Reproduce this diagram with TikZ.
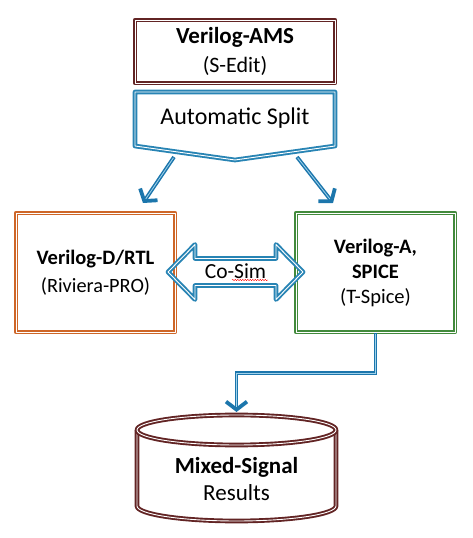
\documentclass[tikz,border=0pt]{standalone}
\usepackage{fontspec}
\setmainfont{Carlito}
\usetikzlibrary{calc,arrows.meta,decorations.pathmorphing}
\definecolor{bordeaux}{RGB}{98,36,36}
\definecolor{bleusplit}{RGB}{40,132,180}
\definecolor{orangeD}{RGB}{206,102,40}
\definecolor{vertA}{RGB}{66,138,60}
\definecolor{bleufl}{RGB}{28,118,172}
\definecolor{bleuclair}{RGB}{160,210,235}
\newcommand{\taille}[2]{\fontsize{#1}{#2}\selectfont}

\begin{document}
\begin{tikzpicture}[x=1pt,y=1pt,
  contour/.style={draw=#1, double=white, double distance=0.9pt, line width=1.9pt, line join=round},
  boite/.style={contour=#1, align=center},
  fleche/.style={draw=bleufl, line width=3.8pt, -{Straight Barb[length=8pt,width=21pt]},
      postaction={draw=bleuclair, line width=0.8pt, -, shorten >=5pt, shorten <=1pt}}]
\useasboundingbox (0,0) rectangle (472,538);

% source
\node[boite=bordeaux, minimum width=200pt, minimum height=63pt, font=\taille{22}{29}]
  (ams) at (235,486.5) {\taille{23}{29}\textbf{Verilog-AMS}\\(S-Edit)};

% split
\draw[contour=bleusplit] (135,446) -- (335,446) -- (335,392) -- (235,378) -- (135,392) -- cycle;
\node[font=\taille{24}{28}] (split) at (235,420) {Automatic Split};
\coordinate (sg) at (174,381);
\coordinate (sd) at (297,381);

% simulateurs
\node[boite=orangeD, minimum width=159pt, minimum height=119pt, font=\taille{20.3}{28}]
  (vl) at (95.5,265.5) {\raisebox{-3pt}{\taille{20.5}{28}\textbf{Verilog-D/RTL}}\\
  \raisebox{-3pt}{(Riviera-PRO)}};
\node[boite=vertA, minimum width=159pt, minimum height=119pt, font=\taille{20.5}{25}]
  (vr) at (375.5,265.5) {\textbf{Verilog-A,}\\\textbf{SPICE}\\(T-Spice)};
\coordinate (pl) at (143,335);
\coordinate (pr) at (333,335);

\draw[fleche] (sg) -- (pl);
\draw[fleche] (sd) -- (pr);

% co-simulation
\draw[contour=bleusplit] (168,266) -- (195,293.5) -- (195,279.5) -- (276,279.5) -- (276,293.5)
  -- (303,266) -- (276,238.5) -- (276,252.5) -- (195,252.5) -- (195,238.5) -- cycle;
\node[font=\taille{21.5}{24}] (cs) at (235.5,266.5) {Co-Sim};
\draw[red, line width=0.4pt, decorate, decoration={snake, amplitude=0.7pt, segment length=2.5pt}]
  (232,258) -- (268,258);

% resultats
\draw[contour=bordeaux, fill=white] (137,108) -- (137,32)
  arc[start angle=180, end angle=360, x radius=99.5, y radius=15] -- (336,108);
\draw[contour=bordeaux] (236.5,108) ellipse[x radius=99.5, y radius=15];
\node[align=center, font=\taille{23}{27}] (res) at (236.5,59)
  {\textbf{Mixed-Signal}\\Results};
\coordinate (restop) at (236.5,126);

\draw[fleche] (vr.south) -- ++(0,-40) -| (restop);
\end{tikzpicture}
\end{document}
